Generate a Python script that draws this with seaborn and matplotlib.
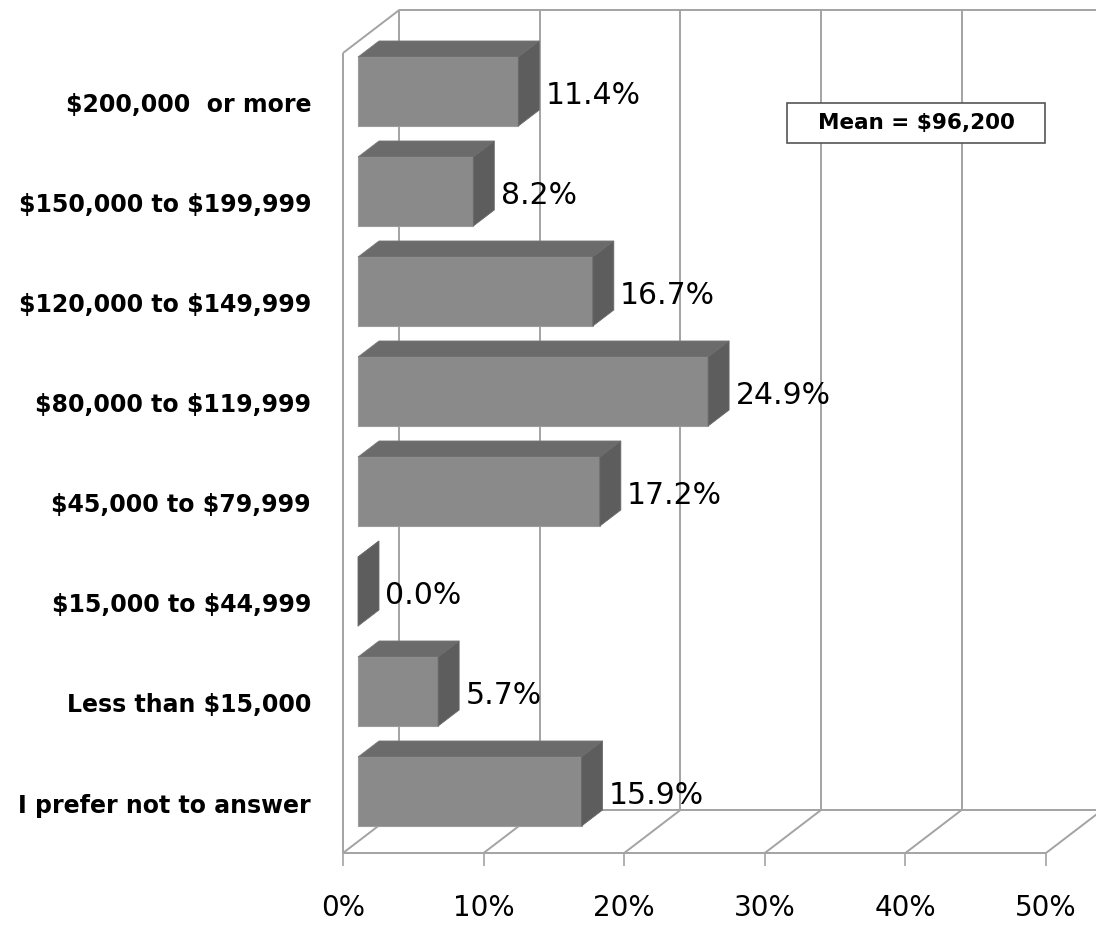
import matplotlib
matplotlib.use("Agg")
import matplotlib.pyplot as plt
from matplotlib.patches import Polygon, Rectangle
import seaborn as sns
import pandas as pd

# ---- data -------------------------------------------------------------
brackets = [
    "$200,000  or more",
    "$150,000 to $199,999",
    "$120,000 to $149,999",
    "$80,000 to $119,999",
    "$45,000 to $79,999",
    "$15,000 to $44,999",
    "Less than $15,000",
    "I prefer not to answer",
]
shares = [11.4, 8.2, 16.7, 24.9, 17.2, 0.0, 5.7, 15.9]
tick_values = [0, 10, 20, 30, 40, 50]
tick_labels = ["0%", "10%", "20%", "30%", "40%", "50%"]
mean_note = "Mean = $96,200"

# ---- styling ----------------------------------------------------------
sns.set_theme(style="white")
plt.rcParams["font.family"] = ["DejaVu Sans"]
plt.rcParams["text.parse_math"] = False   # dollar signs are literal

FRONT = "#8a8a8a"
TOP = "#6b6b6b"
SIDE = "#5d5d5d"
GRID = "#a3a3a3"

# pseudo-3D depth vector of the plot box (data units) and bar slab depth
DX, DY = 4.0, -0.43
F0, F1 = 0.267, 0.64

fig = plt.figure(figsize=(10.96, 9.27), dpi=100)
ax = fig.add_axes([343 / 1096, 74 / 927, 703 / 1096, 800 / 927])

df = pd.DataFrame({"bracket": brackets, "share": shares})
sns.barplot(data=df, x="share", y="bracket", orient="h", width=0.69,
            color=FRONT, saturation=1, ax=ax, zorder=3,
            edgecolor="#9c9c9c", linewidth=0.8)

ax.set_xlim(0, 50)
ax.set_ylim(len(brackets) - 0.5, -0.5)
for s in ax.spines.values():
    s.set_visible(False)

# ---- walls and floor of the 3D box -----------------------------------
y_top, y_bot = -0.5, len(brackets) - 0.5
line_kw = dict(color=GRID, lw=1.4, zorder=1, clip_on=False,
               solid_capstyle="butt")
# front-left edge and top diagonal of the side wall
ax.plot([0, 0], [y_top, y_bot], **line_kw)
ax.plot([0, DX], [y_top, y_top + DY], **line_kw)
# back wall border and vertical gridlines
ax.plot([DX, 55], [y_top + DY, y_top + DY], **line_kw)
ax.plot([DX, 55], [y_bot + DY, y_bot + DY], **line_kw)
for t in tick_values:
    ax.plot([t + DX, t + DX], [y_top + DY, y_bot + DY], **line_kw)
    ax.plot([t, t + DX], [y_bot, y_bot + DY], **line_kw)
# front edge of the floor
ax.plot([0, 50], [y_bot, y_bot], **line_kw)

# ---- extrude each bar into a slab ------------------------------------
ddx, ddy = (F1 - F0) * DX, (F1 - F0) * DY
bars = [p for p in ax.patches if isinstance(p, Rectangle)]
for patch, val in zip(bars, shares):
    y0 = patch.get_y() + F0 * DY
    h = patch.get_height()
    xl = F0 * DX
    xr = xl + patch.get_width()
    patch.set_x(xl)
    patch.set_y(y0)
    patch.set_clip_on(False)
    yt, yb = y0, y0 + h
    top = Polygon([(xl, yt), (xr, yt), (xr + ddx, yt + ddy), (xl + ddx, yt + ddy)],
                  closed=True, facecolor=TOP, edgecolor="#7a7a7a", lw=0.6,
                  zorder=3, clip_on=False)
    side = Polygon([(xr, yt), (xr, yb), (xr + ddx, yb + ddy), (xr + ddx, yt + ddy)],
                   closed=True, facecolor=SIDE, edgecolor="#6a6a6a", lw=0.6,
                   zorder=3, clip_on=False)
    ax.add_patch(top)
    ax.add_patch(side)
    ax.text(xr + ddx + 0.45, yt + h / 2 + 0.04, f"{val:.1f}%",
            ha="left", va="center", fontsize=21.5, color="black", zorder=5)

# ---- axes text --------------------------------------------------------
ax.set_xticks(tick_values)
ax.set_xticklabels(tick_labels)
ax.tick_params(axis="x", bottom=True, length=9.5, width=1.2, color=GRID,
               pad=20, labelsize=20, labelcolor="black")
ax.tick_params(axis="y", left=False, length=0, pad=23, labelsize=17,
               labelcolor="black")
for lab in ax.get_yticklabels():
    lab.set_fontweight("bold")
ax.set_xlabel("")
ax.set_ylabel("")

# mean annotation box
ax.add_patch(Rectangle((0.6316, 0.8875), 0.367, 0.05, transform=ax.transAxes,
                       facecolor="white", edgecolor="#555555", lw=1.2,
                       zorder=6, clip_on=False))
ax.text(0.815, 0.9125, mean_note, transform=ax.transAxes, ha="center",
        va="center", fontsize=15.5, fontweight="bold", color="black", zorder=7)

fig.savefig("out.png", dpi=100, facecolor="white")
